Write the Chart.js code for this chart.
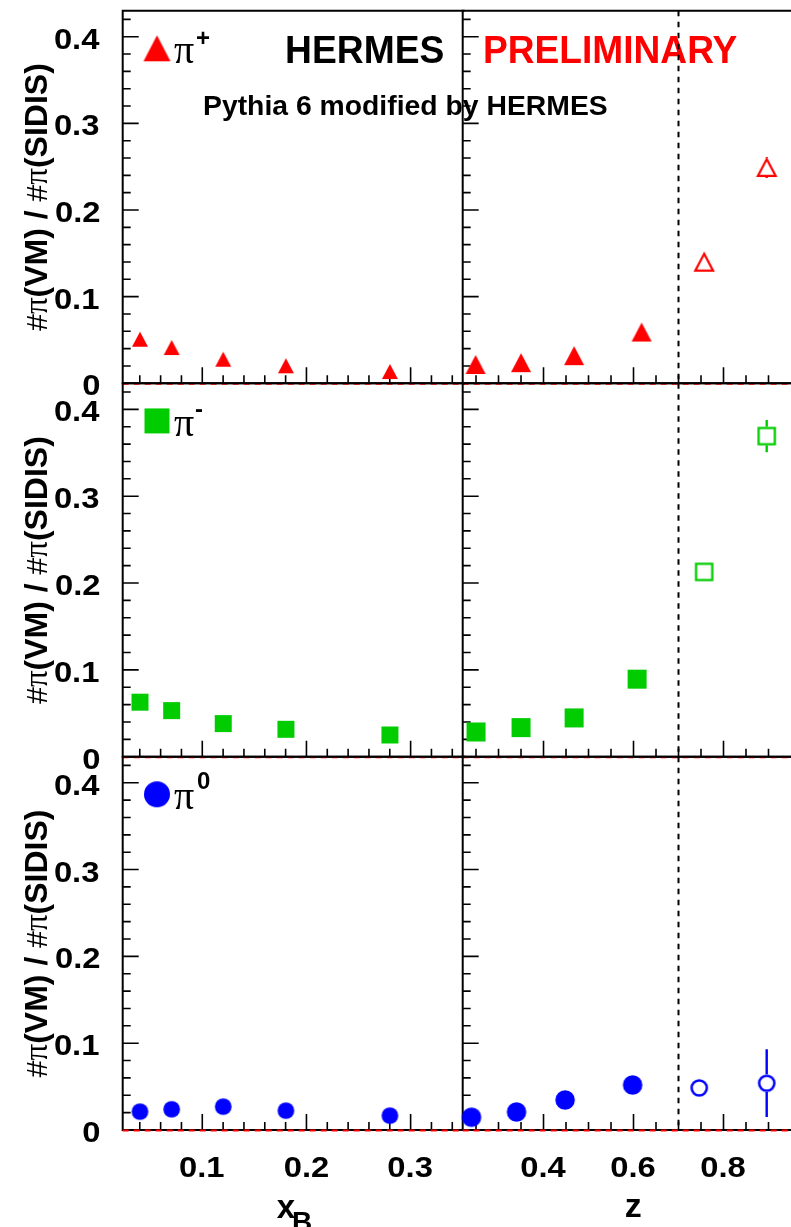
<!DOCTYPE html>
<html><head><meta charset="utf-8">
<script src="https://cdn.jsdelivr.net/npm/chart.js@4.4.1/dist/chart.umd.min.js"></script>
<style>
html,body{margin:0;padding:0;background:#fff;width:791px;height:1227px;overflow:hidden}
canvas{position:absolute;left:0;top:0}
</style></head><body>
<div id="wrap"></div>
<script>
// ---------------- data ----------------
const xB = [0.0402, 0.0706, 0.1201, 0.1803, 0.2801];
const piPlusVsXB  = [0.0509, 0.0413, 0.0278, 0.0202, 0.0136];
const piMinusVsXB = [0.0628, 0.0531, 0.0381, 0.0316, 0.0250];
const piZeroVsXB  = [0.0211, 0.0239, 0.0269, 0.0223, 0.0165];

const zPiPlus = [0.249, 0.350, 0.468, 0.618];
const piPlusVsZ = [0.0217, 0.0238, 0.0319, 0.0592];
const zPiPlusOpen = [0.757, 0.896];
const piPlusVsZOpen = [0.1397, 0.249];
const piPlusVsZOpenErr = [0.004, 0.012];

const zPiMinus = [0.250, 0.350, 0.468, 0.608];
const piMinusVsZ = [0.0285, 0.0335, 0.0447, 0.0893];
const zPiMinusOpen = [0.757, 0.896];
const piMinusVsZOpen = [0.2128, 0.3692];
const piMinusVsZOpenErr = [0.006, 0.0185];

const zPiZero = [0.240, 0.340, 0.448, 0.598];
const piZeroVsZ = [0.0147, 0.0208, 0.0346, 0.0519];
const zPiZeroOpen = [0.746, 0.896];
const piZeroVsZOpen = [0.0485, 0.0539];
const piZeroVsZOpenErr = [0.006, 0.039];

const yTickValues = [0, 0.1, 0.2, 0.3, 0.4];
const yTickLabels = ['0', '0.1', '0.2', '0.3', '0.4'];
const xBTickValues = [0.1, 0.2, 0.3];
const xBTickLabels = ['0.1', '0.2', '0.3'];
const zTickValues = [0.4, 0.6, 0.8];
const zTickLabels = ['0.4', '0.6', '0.8'];
const zCut = 0.7;
const yTitle = [['#', 'n'], ['π', 's'], ['(VM) / ', 'b'], ['#', 'n'], ['π', 's'], ['(SIDIS)', 'b']];
const particleSup = ['+', '-', '0'];

// ---------------- layout ----------------
const W = 791, H = 1227;
const colX = [122.7, 462.7, 791];
const rowY = [10.7, 383.3, 756.7, 1130];
const xBRange = [0.0236, 0.35];
const zRange = [0.2204, 0.95];
const yRange = [0, 0.43];
const RED = '#ff0000', GREEN = '#00cc00', BLUE = '#0000ff';
const SANS = '"Liberation Sans", Arial, sans-serif';
const SERIF = '"Liberation Serif", "Times New Roman", serif';

// marker images
function marker(shape, w, h, color, filled, lw) {
  const c = document.createElement('canvas');
  c.width = Math.ceil(w) + 4; c.height = Math.ceil(h) + 4;
  const g = c.getContext('2d');
  const cx = c.width / 2, cy = c.height / 2;
  g.fillStyle = color; g.strokeStyle = color; g.lineWidth = lw || 0;
  const iw = filled ? w : w - lw, ih = filled ? h : h - lw;
  g.beginPath();
  if (shape === 'tri') {
    g.moveTo(cx, cy - ih / 2); g.lineTo(cx + iw / 2, cy + ih / 2); g.lineTo(cx - iw / 2, cy + ih / 2); g.closePath();
  } else if (shape === 'sq') {
    g.rect(cx - iw / 2, cy - ih / 2, iw, ih);
  } else {
    g.arc(cx, cy, iw / 2, 0, Math.PI * 2);
  }
  if (filled) g.fill(); else { g.lineJoin = 'miter'; g.stroke(); }
  c.half = h / 2;
  return c;
}

function txt(ctx, s, font, x, y, ha, va, color, opt) {
  opt = opt || {};
  ctx.save();
  ctx.font = font; ctx.fillStyle = color; ctx.textAlign = 'left'; ctx.textBaseline = 'alphabetic';
  const m = ctx.measureText(s);
  const L = -m.actualBoundingBoxLeft, R = m.actualBoundingBoxRight;
  let sx = opt.sx || 1;
  if (opt.width) sx = opt.width / (R - L);
  let ox;
  if (ha === 'left') ox = x - L * sx; else if (ha === 'right') ox = x - R * sx; else ox = x - (L + R) / 2 * sx;
  let by = y;
  if (va === 'mid') by = y + (m.actualBoundingBoxAscent - m.actualBoundingBoxDescent) / 2;
  else if (va === 'top') by = y + m.actualBoundingBoxAscent;
  ctx.translate(ox, by); ctx.scale(sx, 1); ctx.fillText(s, 0, 0);
  ctx.restore();
}

function panelPlugin(p) {
  return {
    id: 'panel' + p.id,
    beforeDatasetsDraw(chart) {
      const ctx = chart.ctx, xs = chart.scales.x, ys = chart.scales.y, a = chart.chartArea;
      const left = a.left, right = a.right, top = a.top, bottom = a.bottom;
      ctx.save();
      // ticks
      ctx.strokeStyle = '#000'; ctx.lineWidth = 1.6; ctx.beginPath();
      for (let i = 0; i <= 21; i++) {
        const v = i * 0.02; const py = ys.getPixelForValue(v);
        const len = (i % 5 === 0) ? 16 : 8;
        ctx.moveTo(left, py); ctx.lineTo(left + len, py);
      }
      if (p.col === 0) {
        for (let i = 2; i <= 17; i++) {
          const v = i * 0.02; const px = xs.getPixelForValue(v);
          const len = (i % 5 === 0) ? 16 : 8;
          ctx.moveTo(px, bottom); ctx.lineTo(px, bottom - len);
        }
      } else {
        for (let i = 5; i <= 18; i++) {
          const v = i * 0.05; const px = xs.getPixelForValue(v);
          const len = (i % 4 === 0) ? 16 : 8;
          ctx.moveTo(px, bottom); ctx.lineTo(px, bottom - len);
        }
      }
      ctx.stroke();
      // frame
      ctx.lineWidth = 2; ctx.beginPath();
      ctx.moveTo(right + 2, top); ctx.lineTo(left, top); ctx.lineTo(left, bottom); ctx.lineTo(right + 2, bottom);
      ctx.stroke();
      // red dashed zero line
      const y0 = ys.getPixelForValue(0);
      ctx.strokeStyle = RED; ctx.lineWidth = 2; ctx.setLineDash([6, 5]);
      ctx.beginPath(); ctx.moveTo(left, y0 + 0.5); ctx.lineTo(right, y0 + 0.5); ctx.stroke();
      // vertical cut
      if (p.col === 1) {
        const px = xs.getPixelForValue(zCut);
        ctx.strokeStyle = '#000'; ctx.lineWidth = 2; ctx.setLineDash([5.5, 5.5]);
        ctx.beginPath(); ctx.moveTo(px, top); ctx.lineTo(px, bottom); ctx.stroke();
      }
      ctx.restore();
    },
    afterDatasetsDraw(chart) {
      const ctx = chart.ctx, xs = chart.scales.x, ys = chart.scales.y;
      if (p.err) {
        const e = p.err;
        ctx.save(); ctx.strokeStyle = e.color; ctx.lineWidth = 2.4;
        e.x.forEach((xv, i) => {
          const px = xs.getPixelForValue(xv), py = ys.getPixelForValue(e.y[i]);
          const pt = ys.getPixelForValue(e.y[i] + e.e[i]), pb = ys.getPixelForValue(e.y[i] - e.e[i]);
          ctx.beginPath();
          if (py - pt > e.half) { ctx.moveTo(px, pt); ctx.lineTo(px, py - e.half); }
          if (pb - py > e.half) { ctx.moveTo(px, py + e.half); ctx.lineTo(px, pb); }
          ctx.stroke();
        });
        ctx.restore();
      }
    },
    afterDraw(chart) {
      const ctx = chart.ctx, xs = chart.scales.x, ys = chart.scales.y, a = chart.chartArea;
      if (p.col === 0) {
        // y tick labels
        yTickValues.forEach((v, i) => {
          txt(ctx, yTickLabels[i], 'bold 29px ' + SANS, 99.3, ys.getPixelForValue(v) + 2, 'right', 'mid', '#000', { sx: 1.13 });
        });
        // y title
        ctx.save();
        ctx.translate(46.5, (a.top + a.bottom) / 2); ctx.rotate(-Math.PI / 2);
        ctx.fillStyle = '#000'; ctx.textBaseline = 'alphabetic'; ctx.textAlign = 'left';
        const fonts = { n: '30px ' + SANS, s: '33px ' + SERIF, b: 'bold 32px ' + SANS };
        let total = 0;
        const ws = yTitle.map(r => { ctx.font = fonts[r[1]]; const w = ctx.measureText(r[0]).width; total += w; return w; });
        let u = -total / 2;
        yTitle.forEach((r, i) => { ctx.font = fonts[r[1]]; ctx.fillText(r[0], u, 0); u += ws[i]; });
        ctx.restore();
        // particle legend
        const off = a.top - rowY[0];
        ctx.drawImage(p.legendMarker, 157 - p.legendMarker.width / 2, 48.3 + off - p.legendMarker.height / 2);
        txt(ctx, 'π', '40px ' + SERIF, 174, 63 + off, 'left', 'base', '#000');
        const supFont = 'bold 24px ' + SANS;
        const supY = p.row === 2 ? 781 - 746.6 : 37.5;
        txt(ctx, particleSup[p.row], supFont, p.row === 1 ? 199 : 203.5, supY + off, 'center', 'mid', '#000');
        if (p.row === 0) {
          txt(ctx, 'HERMES', 'bold 38px ' + SANS, 287, 63, 'left', 'base', '#000', { width: 156 });
          txt(ctx, 'PRELIMINARY', 'bold 38px ' + SANS, 485, 63, 'left', 'base', RED, { width: 252 });
          txt(ctx, 'Pythia 6 modified by HERMES', 'bold 28px ' + SANS, 204, 115, 'left', 'base', '#000', { width: 403 });
        }
      }
      if (p.row === 2) {
        const vals = p.col === 0 ? xBTickValues : zTickValues;
        const labs = p.col === 0 ? xBTickLabels : zTickLabels;
        vals.forEach((v, i) => {
          txt(ctx, labs[i], 'bold 29px ' + SANS, xs.getPixelForValue(v), 1177, 'center', 'base', '#000', { sx: 1.13 });
        });
        if (p.col === 0) {
          txt(ctx, 'x', 'bold 33px ' + SANS, 276.7, 1218, 'left', 'base', '#000');
          txt(ctx, 'B', 'bold 28px ' + SANS, 293, 1211.7, 'left', 'top', '#000');
        } else {
          txt(ctx, 'z', 'bold 34px ' + SANS, 633.3, 1217.3, 'center', 'base', '#000');
        }
      }
    }
  };
}

function ds(xs, ys, style) {
  return { data: xs.map((x, i) => ({ x: x, y: ys[i] })), pointStyle: style, pointRadius: 10, pointHoverRadius: 10, showLine: false, clip: false };
}

const colors = [RED, GREEN, BLUE];
const shapes = ['tri', 'sq', 'circ'];
const leftSeries = [piPlusVsXB, piMinusVsXB, piZeroVsXB];
const rightX = [zPiPlus, zPiMinus, zPiZero];
const rightY = [piPlusVsZ, piMinusVsZ, piZeroVsZ];
const openX = [zPiPlusOpen, zPiMinusOpen, zPiZeroOpen];
const openY = [piPlusVsZOpen, piMinusVsZOpen, piZeroVsZOpen];
const openE = [piPlusVsZOpenErr, piMinusVsZOpenErr, piZeroVsZOpenErr];
const sizes = {
  tri:  { L: [16, 15], R: [20, 19], O: [20, 19, 2.2], G: [27, 26] },
  sq:   { L: [17, 17], R: [19, 19], O: [18.5, 18.5, 2.3], G: [25, 25] },
  circ: { L: [16.7, 16.7], R: [19.5, 19.5], O: [17.7, 17.7, 2.5], G: [26, 26] }
};

const wrap = document.getElementById('wrap');
for (let r = 0; r < 3; r++) {
  for (let c = 0; c < 2; c++) {
    const cv = document.createElement('canvas');
    cv.width = W; cv.height = H; cv.style.width = W + 'px'; cv.style.height = H + 'px';
    wrap.appendChild(cv);
    const sh = shapes[r], col = colors[r], sz = sizes[sh];
    let datasets, err = null;
    if (c === 0) {
      datasets = [ds(xB, leftSeries[r], marker(sh, sz.L[0], sz.L[1], col, true))];
    } else {
      const om = marker(sh, sz.O[0], sz.O[1], col, false, sz.O[2]);
      datasets = [ds(rightX[r], rightY[r], marker(sh, sz.R[0], sz.R[1], col, true)), ds(openX[r], openY[r], om)];
      err = { x: openX[r], y: openY[r], e: openE[r], half: om.half, color: col };
    }
    const p = { id: r + '_' + c, row: r, col: c, err: err, legendMarker: marker(sh, sz.G[0], sz.G[1], col, true) };
    new Chart(cv, {
      type: 'scatter',
      data: { datasets: datasets },
      options: {
        responsive: false, animation: false, devicePixelRatio: 1, events: [],
        layout: { autoPadding: false, padding: { left: colX[c], top: rowY[r], right: W - colX[c + 1], bottom: H - rowY[r + 1] } },
        plugins: { legend: { display: false }, tooltip: { enabled: false } },
        scales: {
          x: { type: 'linear', display: false, min: c === 0 ? xBRange[0] : zRange[0], max: c === 0 ? xBRange[1] : zRange[1] },
          y: { type: 'linear', display: false, min: yRange[0], max: yRange[1] }
        }
      },
      plugins: [panelPlugin(p)]
    });
  }
}
</script>
</body></html>
